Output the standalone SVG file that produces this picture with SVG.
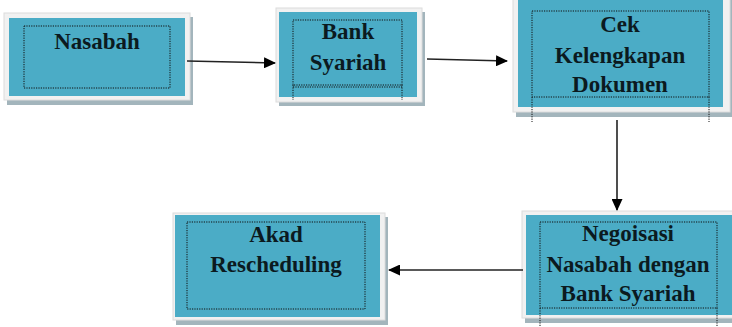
<svg xmlns="http://www.w3.org/2000/svg" width="732" height="327" viewBox="0 0 732 327">
<defs>
<marker id="ah" markerWidth="12" markerHeight="11" refX="11" refY="5.5" orient="auto" markerUnits="userSpaceOnUse"><path d="M0,0 L12,5.5 L0,11 z" fill="#000"/></marker>
</defs>
<style>
.sh{fill:#a3b5bc}
.fr{fill:#f1f1f1;stroke:#dcdcdc;stroke-width:1}
.bl{fill:#4bacc6}
.dt{fill:none;stroke:#111;stroke-width:1;stroke-dasharray:1.2 1.2}
.tx{font-family:'Liberation Serif',serif;font-weight:bold;font-size:23px;fill:#0b1a1f;text-anchor:middle}
.cn{stroke:#222;stroke-width:1.6;fill:none}
</style>
<rect width="732" height="327" fill="#fff"/>
<g id="nasabah">
<rect class="sh" x="7" y="17" width="186" height="88"/>
<rect class="fr" x="4" y="13" width="186" height="87"/>
<rect class="bl" x="9" y="18" width="176" height="78"/>
<rect class="dt" x="24" y="26" width="146" height="62"/>
<text class="tx" x="97" y="49">Nasabah</text>
</g>
<g id="bank">
<rect class="sh" x="279" y="12" width="146" height="94"/>
<rect class="fr" x="276" y="8" width="146" height="94"/>
<rect class="bl" x="279" y="12" width="138" height="85"/>
<rect class="dt" x="293" y="20" width="109" height="65"/>
<path class="dt" d="M293,87 H402 M293,85 V100 M402,85 V100"/>
<text class="tx" x="348" y="39">Bank</text>
<text class="tx" x="348" y="70">Syariah</text>
</g>
<g id="cek">
<rect class="sh" x="516" y="0" width="216" height="117"/>
<rect class="fr" x="513" y="-2" width="217" height="114"/>
<rect class="bl" x="518" y="0" width="205" height="107"/>
<rect class="dt" x="532" y="11" width="177" height="86"/>
<path class="dt" d="M532,97 V122 M709,97 V122"/>
<text class="tx" x="620" y="32">Cek</text>
<text class="tx" x="620" y="63">Kelengkapan</text>
<text class="tx" x="620" y="92">Dokumen</text>
</g>
<g id="negoisasi">
<rect class="sh" x="525" y="215" width="210" height="108"/>
<rect class="fr" x="522" y="211" width="212" height="107"/>
<rect class="bl" x="526" y="215" width="206" height="100"/>
<rect class="dt" x="540" y="222" width="177" height="86"/>
<path class="dt" d="M540,308 V327 M717,308 V327"/>
<text class="tx" x="628" y="241">Negoisasi</text>
<text class="tx" x="628" y="272">Nasabah dengan</text>
<text class="tx" x="628" y="301">Bank Syariah</text>
</g>
<g id="akad">
<rect class="sh" x="176" y="217" width="212" height="108"/>
<rect class="fr" x="173" y="213" width="212" height="107"/>
<rect class="bl" x="175" y="215" width="205" height="102"/>
<rect class="dt" x="187" y="222" width="178" height="87"/>
<text class="tx" x="276" y="242">Akad</text>
<text class="tx" x="276" y="272">Rescheduling</text>
</g>
<g id="connectors">
<line class="cn" x1="187" y1="61" x2="275" y2="63" marker-end="url(#ah)"/>
<line class="cn" x1="427" y1="59" x2="507" y2="61" marker-end="url(#ah)"/>
<line class="cn" x1="617" y1="120" x2="617" y2="210" marker-end="url(#ah)"/>
<line class="cn" x1="523" y1="270" x2="389" y2="270" marker-end="url(#ah)"/>
</g>
</svg>
